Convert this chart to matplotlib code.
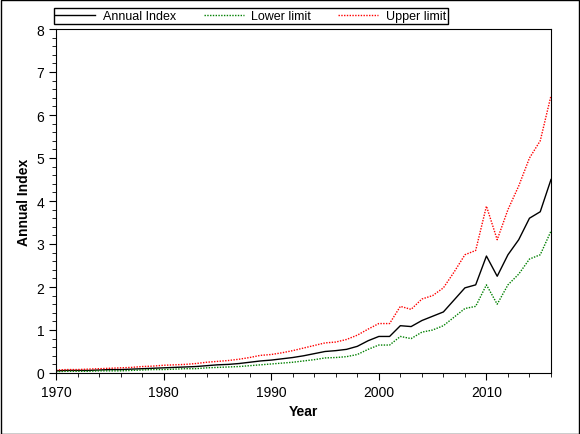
import numpy as np
import matplotlib.pyplot as plt
from matplotlib.ticker import MultipleLocator

years = np.arange(1970, 2017)
index = [0.05, 0.06, 0.06, 0.06, 0.07, 0.08, 0.08, 0.09, 0.10, 0.11,
         0.12, 0.13, 0.14, 0.15, 0.17, 0.19, 0.20, 0.22, 0.25, 0.28,
         0.30, 0.33, 0.36, 0.40, 0.45, 0.50, 0.52, 0.55, 0.62, 0.75,
         0.85, 0.85, 1.10, 1.08, 1.22, 1.32, 1.42, 1.70, 1.98, 2.05,
         2.72, 2.25, 2.75, 3.10, 3.60, 3.75, 4.50]
upper = [0.07, 0.08, 0.08, 0.09, 0.10, 0.11, 0.12, 0.13, 0.15, 0.16,
         0.18, 0.19, 0.20, 0.22, 0.25, 0.27, 0.29, 0.32, 0.36, 0.41,
         0.43, 0.47, 0.52, 0.58, 0.64, 0.70, 0.72, 0.78, 0.88, 1.02,
         1.15, 1.15, 1.55, 1.48, 1.72, 1.80, 1.98, 2.35, 2.75, 2.85,
         3.88, 3.10, 3.80, 4.35, 5.00, 5.40, 6.45]
lower = [0.03, 0.04, 0.04, 0.04, 0.05, 0.05, 0.05, 0.06, 0.07, 0.08,
         0.08, 0.09, 0.10, 0.10, 0.12, 0.13, 0.14, 0.15, 0.17, 0.19,
         0.21, 0.23, 0.25, 0.28, 0.31, 0.35, 0.36, 0.38, 0.43, 0.55,
         0.65, 0.65, 0.85, 0.80, 0.95, 1.00, 1.10, 1.30, 1.50, 1.55,
         2.05, 1.60, 2.05, 2.30, 2.65, 2.75, 3.30]

fig = plt.figure(figsize=(5.8, 4.35), dpi=100)
ax = fig.add_axes([56/580, 1-374/435, (551-56)/580, (374-30)/435])
ax.plot(years, index, color="black", lw=1, label="Annual Index")
ax.plot(years, lower, color="green", lw=1, ls=(0, (1, 1)), label="Lower limit")
ax.plot(years, upper, color="red", lw=1, ls=(0, (1, 1)), label="Upper limit")

ax.set_xlim(1970, 2016)
ax.set_ylim(0, 8)
ax.xaxis.set_major_locator(MultipleLocator(10))
ax.xaxis.set_minor_locator(MultipleLocator(2))
ax.yaxis.set_major_locator(MultipleLocator(1))
ax.yaxis.set_minor_locator(MultipleLocator(0.2))
ax.tick_params(which="major", direction="out", length=5, labelsize=10)
ax.tick_params(which="minor", direction="out", length=3)
for t in ax.get_xticklabels() + ax.get_yticklabels():
    t.set_fontfamily("Liberation Sans")
ax.set_xlabel("Year", fontweight="bold", fontsize=10, family="Liberation Sans")
ax.set_ylabel("Annual Index", fontweight="bold", fontsize=10, family="Liberation Sans")

leg = ax.legend(loc="lower left", bbox_to_anchor=(-0.005, 1.015), ncol=3,
                fancybox=False, edgecolor="black", framealpha=1,
                prop={"family": "Liberation Sans", "size": 9},
                borderpad=0.15, handlelength=3.2, handletextpad=0.6,
                columnspacing=2.2, borderaxespad=0)
leg.get_frame().set_linewidth(1)

fig.patches.append(plt.Rectangle((0.001, 0.001), 0.997, 0.997, transform=fig.transFigure,
                                 fill=False, edgecolor="black", lw=1))
fig.savefig("out.png", dpi=100)
